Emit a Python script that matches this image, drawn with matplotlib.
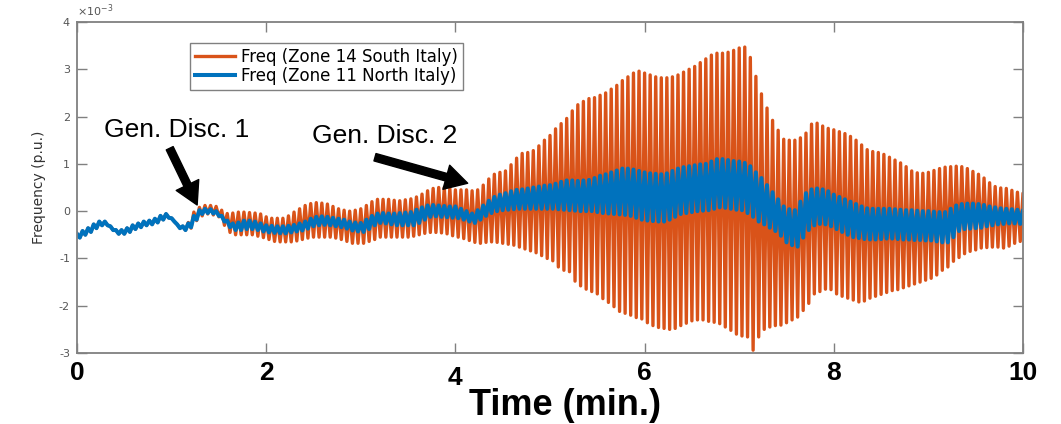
import numpy as np
import matplotlib
matplotlib.use('Agg')
import matplotlib.pyplot as plt
from matplotlib.ticker import FuncFormatter
import matplotlib.transforms as mtransforms

plt.rcParams['axes.unicode_minus'] = False

# peak / trough of each oscillation cycle (17 cycles per minute), in 1e-3 p.u.
# one row per minute, last value at t = 10 min
south_hi = [
    -0.48, -0.42, -0.36, -0.28, -0.22, -0.22, -0.32, -0.40, -0.40, -0.36, -0.30, -0.26, -0.22, -0.20, -0.16, -0.10, -0.06,
    -0.15, -0.28, -0.32, -0.24, -0.02, 0.08, 0.12, 0.12, 0.10, 0.02, -0.05, -0.04, -0.02, -0.02, -0.03, -0.04, -0.06,
    -0.12, -0.15, -0.15, -0.15, -0.10, -0.02, 0.05, 0.12, 0.16, 0.18, 0.17, 0.15, 0.10, 0.05, 0.02, 0.00, 0.02,
    0.05, 0.12, 0.20, 0.25, 0.25, 0.25, 0.23, 0.22, 0.24, 0.26, 0.30, 0.36, 0.43, 0.48, 0.50, 0.50, 0.48,
    0.45, 0.45, 0.45, 0.43, 0.45, 0.55, 0.68, 0.78, 0.82, 0.85, 0.98, 1.12, 1.22, 1.24, 1.28, 1.38, 1.50,
    1.60, 1.74, 1.85, 1.96, 2.12, 2.25, 2.32, 2.38, 2.40, 2.45, 2.50, 2.58, 2.66, 2.76, 2.84, 2.92, 2.96,
    2.92, 2.88, 2.84, 2.82, 2.82, 2.84, 2.88, 2.94, 3.00, 3.06, 3.14, 3.22, 3.30, 3.34, 3.34, 3.36, 3.40,
    3.45, 3.47, 3.25, 2.85, 2.48, 2.18, 1.92, 1.71, 1.52, 1.50, 1.50, 1.55, 1.65, 1.84, 1.86, 1.80, 1.75,
    1.72, 1.68, 1.64, 1.58, 1.50, 1.40, 1.30, 1.26, 1.24, 1.20, 1.14, 1.08, 1.02, 0.94, 0.85, 0.81, 0.80,
    0.82, 0.86, 0.90, 0.93, 0.94, 0.95, 0.94, 0.90, 0.84, 0.78, 0.70, 0.60, 0.52, 0.49, 0.48, 0.44, 0.40,
    0.38,
]
south_lo = [
    -0.56, -0.50, -0.44, -0.36, -0.30, -0.30, -0.40, -0.48, -0.48, -0.44, -0.38, -0.34, -0.30, -0.28, -0.24, -0.18, -0.14,
    -0.22, -0.36, -0.40, -0.36, -0.20, -0.10, -0.06, -0.08, -0.12, -0.30, -0.45, -0.50, -0.50, -0.50, -0.50, -0.53, -0.56,
    -0.60, -0.64, -0.65, -0.65, -0.65, -0.63, -0.60, -0.57, -0.55, -0.55, -0.55, -0.55, -0.57, -0.60, -0.64, -0.68, -0.68,
    -0.68, -0.64, -0.60, -0.55, -0.55, -0.55, -0.55, -0.55, -0.55, -0.53, -0.50, -0.47, -0.45, -0.45, -0.46, -0.48, -0.52,
    -0.55, -0.58, -0.62, -0.66, -0.68, -0.66, -0.65, -0.66, -0.68, -0.70, -0.72, -0.76, -0.80, -0.84, -0.88, -0.94, -1.00,
    -1.05, -1.18, -1.25, -1.28, -1.48, -1.58, -1.65, -1.70, -1.75, -1.85, -1.93, -2.02, -2.12, -2.16, -2.20, -2.25, -2.28,
    -2.36, -2.42, -2.46, -2.48, -2.50, -2.48, -2.42, -2.37, -2.32, -2.30, -2.30, -2.33, -2.35, -2.38, -2.45, -2.52, -2.60,
    -2.64, -2.66, -2.94, -2.66, -2.50, -2.45, -2.42, -2.41, -2.36, -2.30, -2.24, -2.10, -1.95, -1.75, -1.70, -1.65, -1.66,
    -1.75, -1.80, -1.84, -1.88, -1.92, -1.90, -1.84, -1.80, -1.76, -1.72, -1.68, -1.66, -1.62, -1.58, -1.54, -1.50, -1.46,
    -1.42, -1.35, -1.25, -1.18, -1.06, -0.98, -0.90, -0.85, -0.82, -0.78, -0.77, -0.76, -0.76, -0.78, -0.74, -0.68, -0.64,
    -0.61,
]
north_hi = [
    -0.48, -0.42, -0.36, -0.28, -0.22, -0.22, -0.32, -0.40, -0.40, -0.36, -0.30, -0.26, -0.22, -0.20, -0.16, -0.10, -0.06,
    -0.15, -0.28, -0.32, -0.26, -0.10, 0.02, 0.05, 0.04, 0.00, -0.10, -0.20, -0.26, -0.24, -0.20, -0.20, -0.22, -0.26,
    -0.30, -0.31, -0.32, -0.32, -0.31, -0.29, -0.26, -0.22, -0.16, -0.12, -0.11, -0.12, -0.14, -0.16, -0.18, -0.22, -0.24,
    -0.25, -0.18, -0.10, -0.05, -0.04, -0.05, -0.05, -0.04, -0.03, -0.02, 0.03, 0.08, 0.12, 0.13, 0.12, 0.11, 0.10,
    0.10, 0.05, 0.00, -0.05, 0.02, 0.12, 0.22, 0.30, 0.35, 0.38, 0.42, 0.45, 0.46, 0.48, 0.50, 0.52, 0.54,
    0.55, 0.58, 0.62, 0.65, 0.65, 0.64, 0.65, 0.66, 0.70, 0.75, 0.78, 0.82, 0.86, 0.90, 0.90, 0.88, 0.85,
    0.82, 0.80, 0.79, 0.78, 0.80, 0.85, 0.90, 0.93, 0.95, 0.97, 0.99, 1.00, 1.05, 1.10, 1.10, 1.08, 1.06,
    1.05, 1.02, 0.95, 0.82, 0.70, 0.55, 0.40, 0.25, 0.10, 0.04, 0.02, 0.20, 0.38, 0.46, 0.48, 0.46, 0.42,
    0.35, 0.30, 0.25, 0.20, 0.15, 0.10, 0.06, 0.05, 0.05, 0.05, 0.05, 0.04, 0.03, 0.02, 0.02, 0.01, 0.00,
    0.00, -0.01, -0.02, -0.02, 0.05, 0.12, 0.15, 0.16, 0.16, 0.15, 0.13, 0.10, 0.08, 0.06, 0.05, 0.04, 0.03,
    0.02,
]
north_lo = [
    -0.56, -0.50, -0.44, -0.36, -0.30, -0.30, -0.40, -0.48, -0.48, -0.44, -0.38, -0.34, -0.30, -0.28, -0.24, -0.18, -0.14,
    -0.22, -0.36, -0.40, -0.34, -0.18, -0.06, -0.04, -0.05, -0.10, -0.22, -0.34, -0.40, -0.40, -0.38, -0.38, -0.40, -0.43,
    -0.45, -0.46, -0.47, -0.47, -0.45, -0.43, -0.41, -0.37, -0.32, -0.30, -0.29, -0.30, -0.32, -0.34, -0.37, -0.41, -0.43,
    -0.44, -0.38, -0.30, -0.25, -0.26, -0.28, -0.30, -0.30, -0.30, -0.30, -0.25, -0.18, -0.12, -0.11, -0.12, -0.13, -0.14,
    -0.15, -0.18, -0.22, -0.25, -0.18, -0.10, -0.04, 0.00, 0.02, 0.03, 0.04, 0.05, 0.05, 0.05, 0.05, 0.05, 0.05,
    0.05, 0.04, 0.03, 0.02, 0.01, 0.00, 0.00, 0.00, -0.02, -0.04, -0.05, -0.06, -0.07, -0.08, -0.10, -0.14, -0.18,
    -0.20, -0.21, -0.22, -0.22, -0.18, -0.12, -0.06, -0.04, -0.02, 0.00, 0.01, 0.02, 0.05, 0.08, 0.07, 0.05, 0.03,
    0.02, -0.04, -0.12, -0.22, -0.28, -0.35, -0.42, -0.52, -0.66, -0.72, -0.75, -0.56, -0.40, -0.30, -0.27, -0.28, -0.32,
    -0.38, -0.44, -0.50, -0.55, -0.57, -0.59, -0.60, -0.60, -0.59, -0.58, -0.58, -0.59, -0.60, -0.60, -0.61, -0.61, -0.62,
    -0.62, -0.64, -0.66, -0.66, -0.55, -0.42, -0.38, -0.37, -0.36, -0.35, -0.32, -0.30, -0.28, -0.27, -0.26, -0.26, -0.27,
    -0.28,
]
cycles_per_min = 17
labels = ['Freq (Zone 14 South Italy)', 'Freq (Zone 11 North Italy)']


def zigzag(hi, lo):
    v = np.empty(2 * len(hi))
    v[0::2] = hi
    v[1::2] = lo
    t = np.arange(len(v)) / (2 * cycles_per_min)
    return t, v * 1e-3


ORANGE = '#D95319'
BLUE = '#0072BD'
GRAY = '#808080'

fig = plt.figure(figsize=(10.61, 4.24), dpi=100)
ax = fig.add_axes([77 / 1061, 1 - 353 / 424, 946 / 1061, 331 / 424])

t, v = zigzag(south_hi, south_lo)
ax.plot(t, v, color=ORANGE, lw=2.4, solid_joinstyle='round', label=labels[0])
t, v = zigzag(north_hi, north_lo)
ax.plot(t, v, color=BLUE, lw=2.9, solid_joinstyle='round', label=labels[1])

ax.set_xlim(0, 10)
ax.set_ylim(-3e-3, 4e-3)
ax.set_xticks([0, 2, 4, 6, 8, 10])
ax.set_yticks(np.arange(-3, 5) * 1e-3)
ax.yaxis.set_major_formatter(FuncFormatter(lambda y, _: f'{round(y * 1e3):d}'))
ax.text(0.0, 1.008, r'$\times$10$^{\mathsf{-3}}$', transform=ax.transAxes,
        fontsize=8, color='#555555', ha='left', va='bottom')

for s in ax.spines.values():
    s.set_color(GRAY)
    s.set_linewidth(1.3)
ax.tick_params(direction='in', top=True, right=True, length=7, width=1, color=GRAY)
ax.tick_params(axis='y', labelsize=8, labelcolor='#555555', pad=5)
ax.tick_params(axis='x', labelsize=19, pad=6)
for lab in ax.get_xticklabels():
    lab.set_fontfamily('Liberation Sans')
    lab.set_fontweight('bold')
# the "4" label sits a little lower in the original
lab4 = ax.get_xticklabels()[2]
lab4.set_transform(lab4.get_transform() + mtransforms.ScaledTranslation(0, -0.05, fig.dpi_scale_trans))

ax.set_ylabel('Frequency (p.u.)', fontsize=10, color='#333333', labelpad=9)
ax.set_xlabel('Time (min.)', fontsize=26, fontweight='bold', family='Liberation Sans')
ax.xaxis.set_label_coords(0.516, -0.105)

leg = ax.legend(loc='upper left', bbox_to_anchor=(0.1195, 0.937), borderaxespad=0,
                fontsize=12, handlelength=2.4, handletextpad=0.35, labelspacing=0.05,
                borderpad=0.3, fancybox=False, framealpha=1, edgecolor=GRAY)
leg.get_frame().set_linewidth(1.0)

ax.text(0.285, 1.56e-3, 'Gen. Disc. 1', fontsize=19, family='Liberation Sans', va='baseline')
ax.text(2.48, 1.44e-3, 'Gen. Disc. 2', fontsize=19, family='Liberation Sans', va='baseline')
arrow = dict(arrowstyle='simple,head_width=1.8,head_length=1.6,tail_width=0.55',
             color='black', shrinkA=0, shrinkB=0)
ax.annotate('', xy=(1.27, 0.13e-3), xytext=(0.98, 1.33e-3), arrowprops=arrow)
ax.annotate('', xy=(4.13, 0.59e-3), xytext=(3.15, 1.14e-3), arrowprops=arrow)

fig.savefig('out.png', dpi=100)
